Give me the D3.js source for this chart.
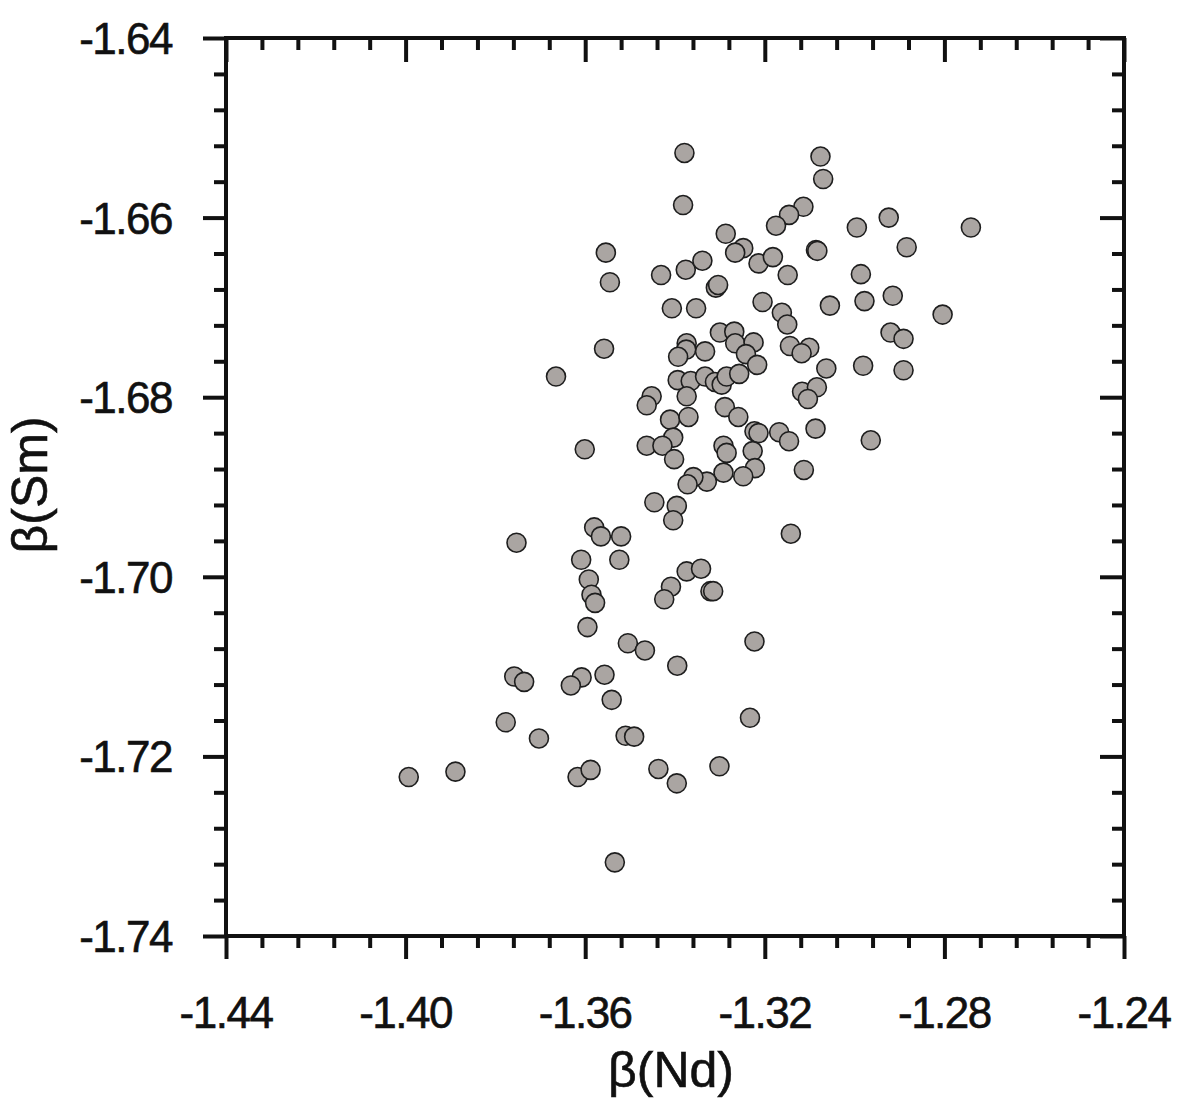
<!DOCTYPE html>
<html>
<head>
<meta charset="utf-8">
<script src="https://cdn.jsdelivr.net/npm/d3@7"></script>
<style>
  html, body { margin: 0; padding: 0; background: #fff; }
  svg { display: block; }
  text { font-family: "Liberation Sans", Arial, sans-serif; fill: #111; stroke: #111; stroke-width: 0.6px; }
</style>
</head>
<body>
<svg id="chart" width="1181" height="1108"></svg>
<script>
// ---- data ----
const xTickValues = [-1.44, -1.40, -1.36, -1.32, -1.28, -1.24];
const xTickLabels = ["-1.44", "-1.40", "-1.36", "-1.32", "-1.28", "-1.24"];
const yTickValues = [-1.64, -1.66, -1.68, -1.70, -1.72, -1.74];
const yTickLabels = ["-1.64", "-1.66", "-1.68", "-1.70", "-1.72", "-1.74"];
const xTitle = "β(Nd)";
const yTitle = "β(Sm)";

const betaNd = [
 -1.3379,-1.3076,-1.3070,-1.3382,-1.3114,-1.3146,-1.3175,-1.2995,-1.2924,-1.2741,
 -1.3287,-1.3248,-1.3266,-1.3086,-1.3083,-1.3214,-1.3182,-1.3149,-1.3554,-1.3545,
 -1.3431,-1.3376,-1.3339,-1.3309,-1.3304,-1.3407,-1.3353,-1.3205,-1.3162,-1.3150,
 -1.3055,-1.3558,-1.3300,-1.3268,-1.3266,-1.3225,-1.3242,-1.3217,-1.3144,-1.3101,
 -1.3118,-1.3063,-1.3374,-1.3375,-1.3393,-1.3333,-1.3665,-1.3394,-1.3365,-1.3333,
 -1.3311,-1.3296,-1.3285,-1.3257,-1.3374,-1.3452,-1.3463,-1.3117,-1.3084,-1.3104,
 -1.3289,-1.3411,-1.3370,-1.3259,-1.3404,-1.3463,-1.3428,-1.3402,-1.3601,-1.3292,
 -1.3285,-1.3223,-1.3214,-1.3168,-1.3146,-1.3087,-1.3227,-1.3222,-1.3248,-1.3292,
 -1.3329,-1.3359,-1.3372,-1.3113,-1.3446,-1.3396,-1.3404,-1.3580,-1.3565,-1.3520,
 -1.3142,-1.3609,-1.3524,-1.3592,-1.3586,-1.3578,-1.3374,-1.3342,-1.3409,-1.3424,
 -1.3321,-1.3315,-1.3595,-1.3505,-1.3467,-1.3223,-1.3395,-1.3608,-1.3632,-1.3557,
 -1.3541,-1.3753,-1.3758,-1.3736,-1.3777,-1.3703,-1.3510,-1.3491,-1.3437,-1.3396,
 -1.3617,-1.3588,-1.3993,-1.3889,-1.3534,-1.2884,-1.2986,-1.2978,-1.2915,-1.2804,
 -1.2920,-1.2891,-1.2981,-1.2891,-1.2964,-1.3233,-1.3301
];
const betaSm = [
 -1.6528,-1.6532,-1.6557,-1.6586,-1.6588,-1.6597,-1.6609,-1.6611,-1.6600,-1.6611,
 -1.6618,-1.6634,-1.6639,-1.6636,-1.6637,-1.6651,-1.6644,-1.6664,-1.6639,-1.6672,
 -1.6664,-1.6658,-1.6648,-1.6678,-1.6675,-1.6701,-1.6701,-1.6694,-1.6706,-1.6719,
 -1.6698,-1.6746,-1.6728,-1.6727,-1.6740,-1.6739,-1.6752,-1.6764,-1.6743,-1.6745,
 -1.6751,-1.6768,-1.6740,-1.6747,-1.6755,-1.6749,-1.6777,-1.6781,-1.6782,-1.6777,
 -1.6783,-1.6786,-1.6777,-1.6774,-1.6799,-1.6799,-1.6809,-1.6794,-1.6789,-1.6802,
 -1.6811,-1.6825,-1.6822,-1.6822,-1.6845,-1.6854,-1.6854,-1.6869,-1.6858,-1.6854,
 -1.6862,-1.6838,-1.6840,-1.6839,-1.6849,-1.6835,-1.6860,-1.6879,-1.6888,-1.6884,
 -1.6894,-1.6889,-1.6897,-1.6881,-1.6917,-1.6921,-1.6937,-1.6945,-1.6955,-1.6955,
 -1.6952,-1.6981,-1.6981,-1.7003,-1.7020,-1.7029,-1.6994,-1.6991,-1.7011,-1.7025,
 -1.7016,-1.7016,-1.7056,-1.7074,-1.7082,-1.7072,-1.7099,-1.7112,-1.7121,-1.7109,
 -1.7137,-1.6962,-1.7111,-1.7117,-1.7162,-1.7180,-1.7177,-1.7178,-1.7214,-1.7230,
 -1.7223,-1.7215,-1.7223,-1.7217,-1.7318,-1.6633,-1.6663,-1.6693,-1.6687,-1.6708,
 -1.6728,-1.6735,-1.6765,-1.6770,-1.6848,-1.7157,-1.7211
];

// ---- layout ----
const svg = d3.select("#chart");
const L = 226, R = 1124, T = 38, B = 936;
const x = d3.scaleLinear().domain([-1.44, -1.24]).range([L, R]);
const y = d3.scaleLinear().domain([-1.64, -1.74]).range([T, B]);

const xMinor = d3.range(0, 26).map(i => -1.44 + i * 0.008).filter(v => !xTickValues.some(t => Math.abs(t - v) < 1e-6));
const yMinor = d3.range(0, 26).map(i => -1.64 - i * 0.004).filter(v => !yTickValues.some(t => Math.abs(t - v) < 1e-6));

const points = betaNd.map((v, i) => ({x: v, y: betaSm[i]}));

// points
svg.append("g").selectAll("circle").data(points).join("circle")
  .attr("cx", d => x(d.x)).attr("cy", d => y(d.y)).attr("r", 9.5)
  .attr("fill", "#aaa5a2").attr("stroke", "#1e1e1e").attr("stroke-width", 1.6);

function styleAxis(g) {
  g.select(".domain").remove();
  g.selectAll(".tick line").attr("stroke", "#111").attr("stroke-width", 4);
}

// bottom (outward)
svg.append("g").attr("transform", `translate(0,${B})`)
  .call(d3.axisBottom(x).tickValues(xTickValues).tickSize(23).tickFormat(""))
  .call(styleAxis);
svg.append("g").attr("transform", `translate(0,${B})`)
  .call(d3.axisBottom(x).tickValues(xMinor).tickSize(12).tickFormat(""))
  .call(styleAxis);
// top (inward)
svg.append("g").attr("transform", `translate(0,${T})`)
  .call(d3.axisBottom(x).tickValues(xTickValues).tickSize(24).tickFormat(""))
  .call(styleAxis);
svg.append("g").attr("transform", `translate(0,${T})`)
  .call(d3.axisBottom(x).tickValues(xMinor).tickSize(12).tickFormat(""))
  .call(styleAxis);
// left (outward)
svg.append("g").attr("transform", `translate(${L},0)`)
  .call(d3.axisLeft(y).tickValues(yTickValues).tickSize(23).tickFormat(""))
  .call(styleAxis);
svg.append("g").attr("transform", `translate(${L},0)`)
  .call(d3.axisLeft(y).tickValues(yMinor).tickSize(12).tickFormat(""))
  .call(styleAxis);
// right (inward)
svg.append("g").attr("transform", `translate(${R},0)`)
  .call(d3.axisLeft(y).tickValues(yTickValues).tickSize(24).tickFormat(""))
  .call(styleAxis);
svg.append("g").attr("transform", `translate(${R},0)`)
  .call(d3.axisLeft(y).tickValues(yMinor).tickSize(12).tickFormat(""))
  .call(styleAxis);

// frame
svg.append("rect").attr("x", L).attr("y", T).attr("width", R - L).attr("height", B - T)
  .attr("fill", "none").attr("stroke", "#111").attr("stroke-width", 4);

// tick labels
svg.append("g").selectAll("text").data(xTickValues).join("text")
  .attr("x", d => x(d)).attr("y", 1028)
  .attr("text-anchor", "middle").attr("font-size", 44).attr("letter-spacing", "-1.5px")
  .text((d, i) => xTickLabels[i]);
svg.append("g").selectAll("text").data(yTickValues).join("text")
  .attr("x", 172).attr("y", d => y(d) + 16)
  .attr("text-anchor", "end").attr("font-size", 44).attr("letter-spacing", "-1.5px")
  .text((d, i) => yTickLabels[i]);

// titles
svg.append("text").attr("x", 671).attr("y", 1087).attr("text-anchor", "middle")
  .attr("font-size", 50).text(xTitle);
svg.append("text").attr("transform", "translate(47,485) rotate(-90)").attr("text-anchor", "middle")
  .attr("font-size", 50).text(yTitle);
</script>
</body>
</html>
